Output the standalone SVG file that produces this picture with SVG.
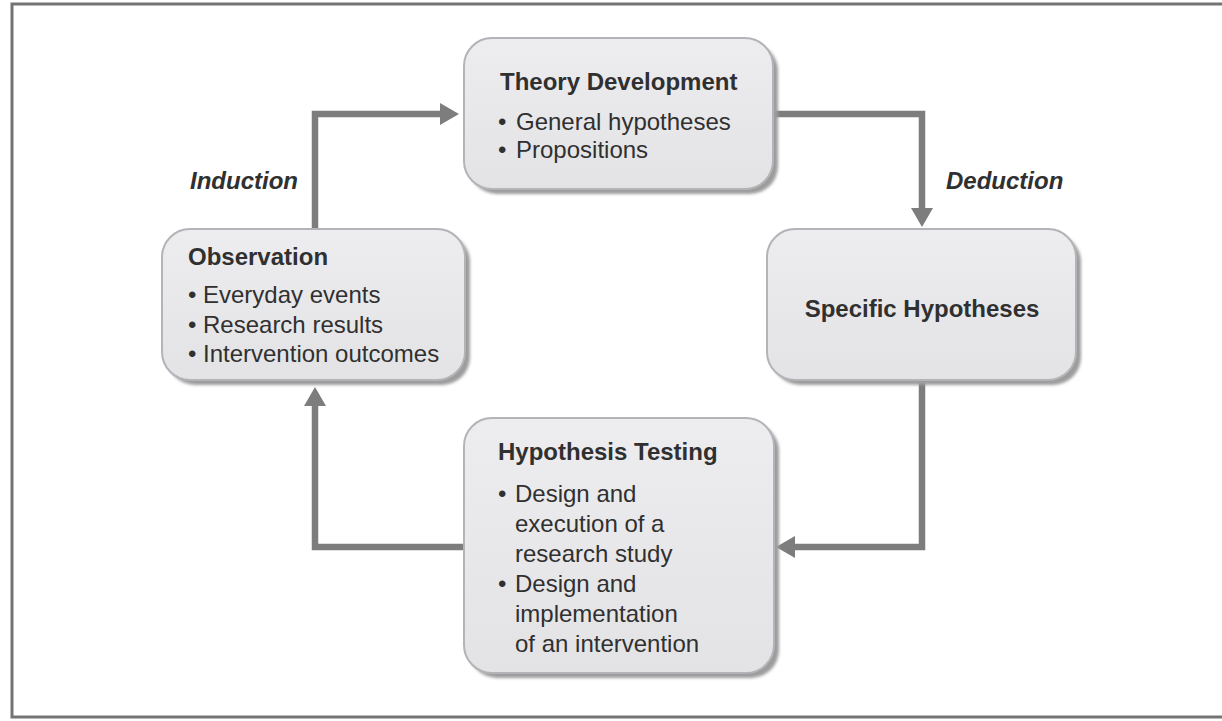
<svg xmlns="http://www.w3.org/2000/svg" width="1222" height="721" viewBox="0 0 1222 721">
<defs>
<style>
.box{fill:url(#bg);stroke:#b4b4b8;stroke-width:2}
.sh{fill:#9c9c9c;filter:url(#blur)}
.t{font-family:"Liberation Sans",Arial,sans-serif;font-size:24px;fill:#303030}
.b{font-weight:bold}
.i{font-weight:bold;font-style:italic}
.c{fill:none;stroke:#7d7d7d;stroke-width:6.5;stroke-linejoin:miter}
</style>
<linearGradient id="bg" x1="0" y1="0" x2="0" y2="1">
<stop offset="0" stop-color="#ededef"/>
<stop offset="1" stop-color="#e3e3e5"/>
</linearGradient>
<filter id="blur" x="-10%" y="-10%" width="120%" height="120%"><feGaussianBlur stdDeviation="1.5"/></filter>
<marker id="ah" markerUnits="userSpaceOnUse" markerWidth="20" markerHeight="22" refX="0" refY="11" orient="auto">
<path d="M0,0 L19,11 L0,22 z" fill="#7d7d7d"/>
</marker>
</defs>
<rect width="1222" height="721" fill="#fff"/>
<rect x="12" y="4" width="1216" height="713" fill="none" stroke="#747474" stroke-width="3"/>
<g id="connectors">
<path class="c" d="M315,229 V114 H440" marker-end="url(#ah)"/>
<path class="c" d="M773,114 H922 V208" marker-end="url(#ah)"/>
<path class="c" d="M922,383 V547 H795" marker-end="url(#ah)"/>
<path class="c" d="M464,547 H315 V406" marker-end="url(#ah)"/>
</g>
<g id="theory">
<rect class="sh" x="469" y="43" width="309" height="151" rx="28"/>
<rect class="box" x="464" y="38" width="309" height="151" rx="28"/>
<text class="t b" x="500" y="90">Theory Development</text>
<text class="t" x="498" y="130">•</text><text class="t" x="516" y="130">General hypotheses</text>
<text class="t" x="498" y="158">•</text><text class="t" x="516" y="158">Propositions</text>
</g>
<g id="observation">
<rect class="sh" x="167" y="234" width="303" height="151" rx="28"/>
<rect class="box" x="162" y="229" width="303" height="151" rx="28"/>
<text class="t b" x="188" y="265">Observation</text>
<text class="t" x="188" y="303">•</text><text class="t" x="203" y="303">Everyday events</text>
<text class="t" x="188" y="333">•</text><text class="t" x="203" y="333">Research results</text>
<text class="t" x="188" y="362">•</text><text class="t" x="203" y="362">Intervention outcomes</text>
</g>
<g id="specific">
<rect class="sh" x="772" y="234" width="309" height="151" rx="28"/>
<rect class="box" x="767" y="229" width="309" height="151" rx="28"/>
<text class="t b" x="922" y="317" text-anchor="middle">Specific Hypotheses</text>
</g>
<g id="testing">
<rect class="sh" x="469" y="423" width="310" height="255" rx="28"/>
<rect class="box" x="464" y="418" width="310" height="255" rx="28"/>
<text class="t b" x="498" y="460">Hypothesis Testing</text>
<text class="t" x="498" y="502">•</text><text class="t" x="515" y="502">Design and</text>
<text class="t" x="515" y="532">execution of a</text>
<text class="t" x="515" y="562">research study</text>
<text class="t" x="498" y="592">•</text><text class="t" x="515" y="592">Design and</text>
<text class="t" x="515" y="622">implementation</text>
<text class="t" x="515" y="652">of an intervention</text>
</g>
<g id="labels">
<text class="t i" x="190" y="189">Induction</text>
<text class="t i" x="946" y="189">Deduction</text>
</g>
</svg>
